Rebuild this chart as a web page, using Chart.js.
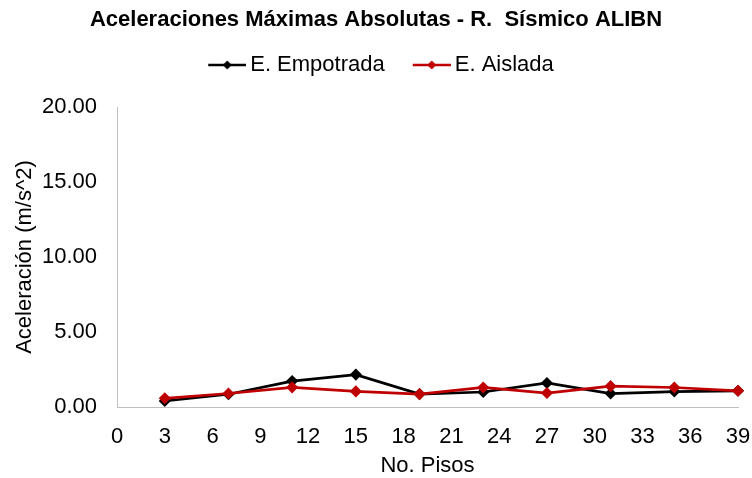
<!DOCTYPE html>
<html>
<head>
<meta charset="utf-8">
<script src="https://cdn.jsdelivr.net/npm/chart.js@4"></script>
<style>
  html, body { margin: 0; padding: 0; background: #fff; }
  #wrap { width: 752px; height: 478px; }
</style>
</head>
<body>
<div id="wrap"><canvas id="chart"></canvas></div>
<script>
var pisos = [3, 7, 11, 15, 19, 23, 27, 31, 35, 39];
var empotrada = [0.40, 0.85, 1.73, 2.16, 0.86, 1.00, 1.60, 0.90, 1.03, 1.08];
var aislada = [0.58, 0.90, 1.31, 1.04, 0.86, 1.30, 0.93, 1.39, 1.30, 1.08];
var seriesNames = ['E. Empotrada', 'E. Aislada'];
var seriesColors = ['#000000', '#C00000'];

var fontFamily = "'Liberation Sans', Arial, sans-serif";
Chart.defaults.font.family = fontFamily;
Chart.defaults.color = '#000';

function toPoints(values) {
    return pisos.map(function (p, i) { return { x: p, y: values[i] }; });
}

// legend icon: short line with a diamond, like the Excel legend
function legendIcon(color) {
    var c = document.createElement('canvas');
    c.width = 55;
    c.height = 12;
    var ctx = c.getContext('2d');
    ctx.strokeStyle = color;
    ctx.lineWidth = 2.5;
    ctx.beginPath();
    ctx.moveTo(17, 6);
    ctx.lineTo(55, 6);
    ctx.stroke();
    ctx.fillStyle = color;
    ctx.beginPath();
    ctx.moveTo(36, 1.5);
    ctx.lineTo(40.5, 6);
    ctx.lineTo(36, 10.5);
    ctx.lineTo(31.5, 6);
    ctx.closePath();
    ctx.fill();
    return c;
}

function makeDataset(i, values, order) {
    return {
        label: seriesNames[i],
        data: toPoints(values),
        borderColor: seriesColors[i],
        backgroundColor: seriesColors[i],
        borderWidth: 2.75,
        pointStyle: 'rectRot',
        pointRadius: 5,
        pointBorderWidth: 1.5,
        pointBackgroundColor: seriesColors[i],
        pointBorderColor: seriesColors[i],
        tension: 0,
        clip: false,
        order: order
    };
}

new Chart(document.getElementById('chart'), {
    type: 'line',
    data: {
        datasets: [
            makeDataset(0, empotrada, 1),
            makeDataset(1, aislada, 0)
        ]
    },
    options: {
        responsive: true,
        maintainAspectRatio: false,
        animation: false,
        layout: { padding: 0 },
        plugins: {
            title: {
                display: true,
                text: 'Aceleraciones Máximas Absolutas - R.  Sísmico ALIBN',
                font: { size: 22, weight: 'bold' },
                color: '#000',
                padding: { top: 6.8, bottom: 2.8 }
            },
            // empty subtitle below the legend, only used as a spacer
            subtitle: {
                display: true,
                text: '',
                weight: 500,
                font: { size: 10, lineHeight: 1 },
                padding: { top: 11, bottom: 0 }
            },
            legend: {
                labels: {
                    usePointStyle: true,
                    pointStyleWidth: 41,
                    padding: 18,
                    font: { size: 22 },
                    color: '#000',
                    generateLabels: function (chart) {
                        var items = Chart.defaults.plugins.legend.labels.generateLabels(chart);
                        items.sort(function (a, b) { return a.datasetIndex - b.datasetIndex; });
                        items.forEach(function (it) {
                            it.pointStyle = legendIcon(seriesColors[it.datasetIndex]);
                        });
                        return items;
                    }
                }
            },
            tooltip: { enabled: false }
        },
        scales: {
            x: {
                type: 'linear',
                min: 0,
                max: 39,
                ticks: { stepSize: 3, padding: 17, font: { size: 22 }, color: '#000' },
                grid: { display: false, drawTicks: false },
                border: { display: true, color: '#bfbfbf', width: 1 },
                title: {
                    display: true,
                    text: 'No. Pisos',
                    font: { size: 22 },
                    color: '#000',
                    padding: { top: 0, bottom: -1.5 }
                },
                afterFit: function (scale) {
                    scale.height = 71;
                    scale.paddingRight = 14;
                }
            },
            y: {
                min: 0,
                max: 20,
                ticks: {
                    stepSize: 5,
                    padding: 20,
                    font: { size: 22 },
                    color: '#000',
                    callback: function (v) { return v.toFixed(2); }
                },
                grid: { display: false, drawTicks: false },
                border: { display: true, color: '#bfbfbf', width: 1 },
                title: {
                    display: true,
                    text: 'Aceleración (m/s^2)',
                    font: { size: 22 },
                    color: '#000',
                    padding: { top: 11.8, bottom: 0 }
                },
                afterFit: function (scale) {
                    scale.width = 117;
                }
            }
        }
    }
});
</script>
</body>
</html>
